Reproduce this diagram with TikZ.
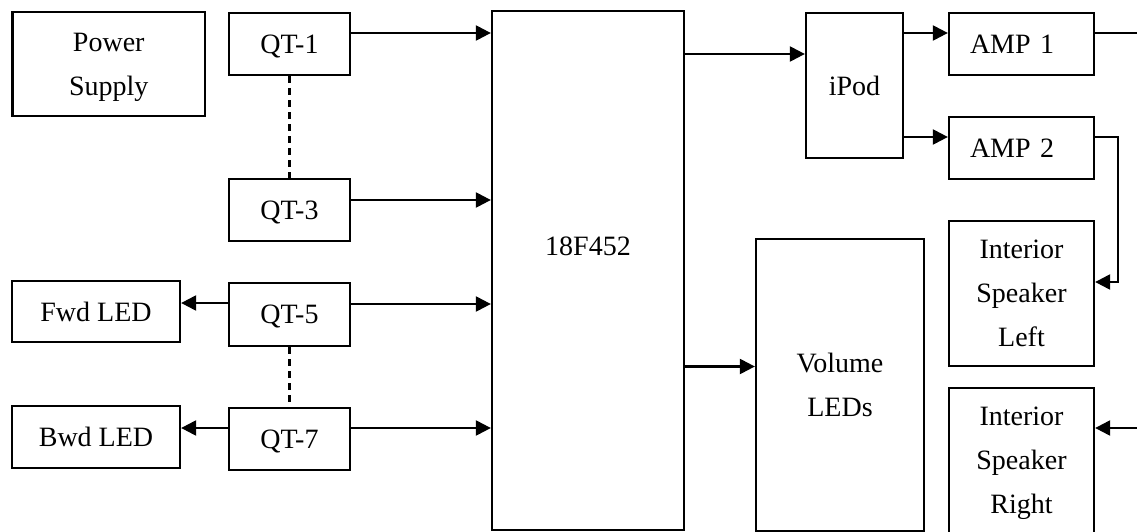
\documentclass[tikz,border=0pt]{standalone}
\usepackage{fontspec}
\setmainfont{Liberation Serif}
\usetikzlibrary{arrows.meta,calc}
\begin{document}
\begin{tikzpicture}[x=1pt,y=-1pt,
  box/.style={draw, line width=2.3pt, rectangle, align=center, inner sep=0pt,
              text depth=0pt, font=\fontsize{28}{44}\selectfont},
  txt/.style={inner sep=0pt, text depth=0pt, font=\fontsize{28}{44}\selectfont},
  ampbox/.style={box, align=left, text width=103pt, inner xsep=21pt,
                 minimum height=62pt},
  arr/.style={line width=2.3pt, -{Triangle[length=15pt,width=15pt]}},
  link/.style={line width=2.3pt},
  dashlink/.style={line width=2.3pt, dash pattern=on 7pt off 5pt}]
\useasboundingbox (0,0) rectangle (1137,532);

% left column
\node[box, minimum width=192.5pt, minimum height=104pt] (ps) at (108.75,64) {Power\\Supply};
\node[box, minimum width=168pt, minimum height=61pt] (fwd) at (96,311.5) {Fwd LED};
\node[box, minimum width=168pt, minimum height=62pt] (bwd) at (96,437) {Bwd LED};

% QT sensors
\node[box, minimum width=121pt, minimum height=62pt] (qt1) at (289.5,44) {QT-1};
\node[box, minimum width=121pt, minimum height=62pt] (qt3) at (289.5,210) {QT-3};
\node[box, minimum width=121pt, minimum height=63pt] (qt5) at (289.5,314.5) {QT-5};
\node[box, minimum width=121pt, minimum height=62pt] (qt7) at (289.5,439) {QT-7};

% micro controller
\node[box, minimum width=192pt, minimum height=519pt] (chip) at (588,270.5) {};
\node[txt] (chiptxt) at (588,246) {18F452};

% right side
\node[box, minimum width=97pt, minimum height=145pt] (ipod) at (854.5,85.5) {iPod};
\node[ampbox] (amp1) at (1021.5,44) {AMP 1};
\node[ampbox] (amp2) at (1021.5,148) {AMP 2};
\node[box, minimum width=168pt, minimum height=292pt] (vol) at (840,385) {Volume\\LEDs};
\node[box, minimum width=145pt, minimum height=145pt] (isl) at (1021.5,293.5) {Interior\\Speaker\\Left};
\node[box, minimum width=145pt, minimum height=145pt] (isr) at (1021.5,460.5) {Interior\\Speaker\\Right};

\coordinate (edge1) at (1137,33);
\coordinate (edge2) at (1137,428);
\coordinate (bend1) at (1118,137);

% dashed links between sensors
\draw[dashlink] (qt1.south) -- (qt3.north);
\draw[dashlink] (qt5.south) -- (qt7.north);

% sensors to chip
\draw[arr] ([yshift=11pt]qt1.east) -- ([yshift=11pt]qt1.east -| chip.west);
\draw[arr] ([yshift=10pt]qt3.east) -- ([yshift=10pt]qt3.east -| chip.west);
\draw[arr] ([yshift=10.5pt]qt5.east) -- ([yshift=10.5pt]qt5.east -| chip.west);
\draw[arr] ([yshift=11pt]qt7.east) -- ([yshift=11pt]qt7.east -| chip.west);

% sensors to LEDs
\draw[arr] ([yshift=11.5pt]qt5.west) -- ([yshift=11.5pt]qt5.west -| fwd.east);
\draw[arr] ([yshift=11pt]qt7.west) -- ([yshift=11pt]qt7.west -| bwd.east);

% chip outputs
\draw[arr] ([yshift=31.5pt]ipod.west -| chip.east) -- ([yshift=31.5pt]ipod.west);
\draw[arr] ([yshift=18.5pt]vol.west -| chip.east) -- ([yshift=18.5pt]vol.west);

% iPod to amps
\draw[arr] ([yshift=11pt]amp1.west -| ipod.east) -- ([yshift=11pt]amp1.west);
\draw[arr] ([yshift=11pt]amp2.west -| ipod.east) -- ([yshift=11pt]amp2.west);

% amps to speakers
\draw[link] ([yshift=11pt]amp1.east) -- (edge1);
\draw[arr] ([yshift=11pt]amp2.east) -- (bend1) |- ([yshift=11.5pt]isl.east);
\draw[arr] (edge2) -- (edge2 -| isr.east);
\end{tikzpicture}
\end{document}
